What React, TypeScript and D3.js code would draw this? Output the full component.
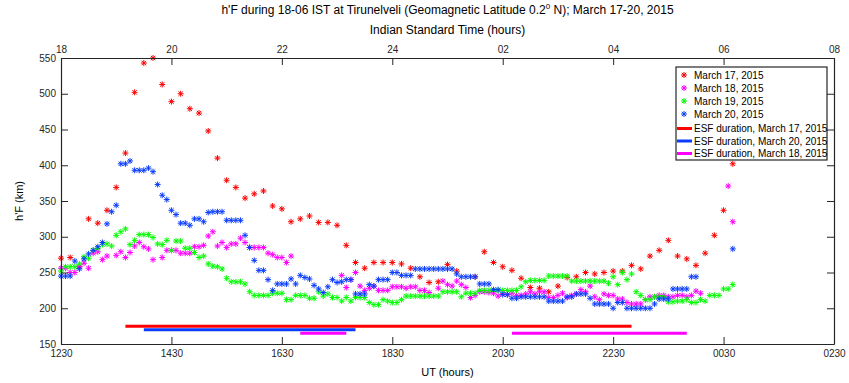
import { useEffect, useRef } from "react";
import * as d3 from "d3";

// h'F over Tirunelveli, 18-06 IST, March 17-20 2015.
// Values are [UT hhmm, h'F km]; times before 1200 belong to the next UT day.

const MAR17: [number, number][] = [
  [1230, 270], [1240, 271], [1250, 258], [1300, 325], [1310, 319], [1320, 337], [1330, 369], [1340, 417],
  [1350, 502], [1400, 543], [1410, 550], [1420, 513], [1430, 489], [1440, 500], [1450, 479], [1500, 473],
  [1510, 448], [1520, 410], [1530, 379], [1540, 369], [1550, 354], [1600, 360], [1610, 364], [1620, 343],
  [1630, 339], [1640, 321], [1650, 325], [1700, 329], [1710, 320], [1720, 320], [1730, 316], [1740, 288],
  [1750, 264], [1800, 256], [1810, 264], [1820, 264], [1830, 264], [1840, 262], [1850, 256], [1900, 244],
  [1910, 236], [1920, 237], [1930, 261], [1940, 252], [2000, 244], [2010, 279], [2020, 264], [2030, 258],
  [2040, 253], [2050, 242], [2100, 229], [2110, 228], [2120, 223], [2130, 231], [2140, 243], [2150, 244],
  [2200, 250], [2210, 248], [2220, 250], [2230, 252], [2240, 252], [2250, 260], [2300, 255], [2310, 273],
  [2320, 281], [2330, 295], [2340, 273], [2350, 269], [0, 260], [10, 277], [20, 302], [30, 337], [40, 402],
];

const MAR18: [number, number][] = [
  [1230, 256], [1235, 256], [1240, 250], [1245, 250], [1250, 258], [1255, 263], [1300, 256], [1305, 277],
  [1310, 279], [1315, 268], [1320, 273], [1330, 274], [1335, 279], [1340, 271], [1345, 278], [1350, 287],
  [1355, 292], [1400, 286], [1405, 283], [1410, 268], [1420, 271], [1425, 281], [1430, 281], [1435, 281],
  [1440, 277], [1445, 277], [1450, 277], [1455, 286], [1500, 286], [1505, 288], [1510, 301], [1515, 307],
  [1520, 287], [1525, 292], [1530, 285], [1535, 290], [1540, 290], [1545, 298], [1550, 292], [1555, 285],
  [1600, 285], [1605, 285], [1610, 285], [1615, 277], [1620, 275], [1625, 271], [1630, 271], [1635, 264],
  [1640, 273],
  [1735, 246], [1740, 229], [1745, 240], [1750, 250], [1755, 231], [1800, 225], [1805, 228], [1810, 231],
  [1815, 225], [1820, 225], [1825, 225], [1830, 230], [1835, 230], [1840, 230], [1845, 228], [1850, 230],
  [1855, 230], [1900, 225], [1905, 225], [1910, 222], [1920, 228], [1925, 238], [1930, 233], [1935, 231],
  [1940, 238], [1945, 233], [1950, 229], [1955, 215], [2000, 218], [2005, 223], [2010, 223], [2015, 222],
  [2020, 221], [2025, 217], [2030, 221], [2035, 219], [2040, 221], [2045, 218], [2050, 218], [2055, 220],
  [2100, 223], [2105, 220], [2110, 223], [2115, 223], [2120, 215], [2125, 215], [2130, 218], [2135, 221],
  [2140, 215], [2145, 218], [2150, 220], [2155, 226], [2200, 223], [2205, 231], [2210, 216], [2215, 212],
  [2220, 220], [2225, 218], [2230, 218], [2235, 213], [2240, 213], [2245, 208], [2250, 206], [2255, 206],
  [2300, 206], [2305, 212], [2310, 216], [2315, 216], [2320, 218], [2325, 218], [2330, 216], [2335, 216],
  [2340, 218], [2345, 218], [2350, 216], [2355, 218], [0, 224], [5, 221], [35, 371], [40, 321],
];

const MAR19: [number, number][] = [
  [1230, 252], [1235, 258], [1240, 258], [1245, 258], [1250, 262], [1255, 272], [1300, 270], [1305, 281],
  [1310, 284], [1315, 289], [1320, 290], [1325, 287], [1330, 302], [1335, 307], [1340, 311], [1345, 289],
  [1350, 295], [1355, 303], [1400, 303], [1405, 303], [1410, 299], [1415, 290], [1420, 289], [1425, 295],
  [1430, 281], [1435, 294], [1440, 294], [1445, 284], [1450, 284], [1455, 278], [1500, 271], [1505, 273],
  [1510, 262], [1515, 259], [1520, 258], [1525, 255], [1530, 242], [1535, 237], [1540, 237], [1545, 237],
  [1550, 234], [1555, 223], [1600, 218], [1605, 218], [1610, 218], [1615, 218], [1620, 221], [1625, 221],
  [1630, 221], [1635, 212], [1640, 212], [1645, 218], [1650, 218], [1655, 218], [1700, 214], [1705, 214],
  [1710, 223], [1715, 217], [1720, 220], [1725, 215], [1730, 215], [1735, 210], [1740, 215], [1745, 210],
  [1750, 215], [1755, 215], [1800, 215], [1805, 208], [1810, 205], [1815, 205], [1820, 212], [1825, 210],
  [1830, 208], [1835, 208], [1840, 212], [1845, 217], [1850, 217], [1855, 217], [1900, 217], [1905, 217],
  [1910, 217], [1915, 217], [1920, 217], [1925, 223], [1930, 223], [1935, 223], [1940, 223], [1945, 216],
  [1950, 221], [1955, 221], [2000, 221], [2005, 225], [2010, 225], [2015, 225], [2020, 225], [2025, 225],
  [2030, 225], [2035, 225], [2040, 225], [2045, 225], [2050, 230], [2055, 237], [2100, 239], [2105, 239],
  [2110, 239], [2115, 239], [2120, 245], [2125, 245], [2130, 245], [2135, 245], [2140, 245], [2145, 238],
  [2150, 238], [2155, 238], [2200, 238], [2205, 238], [2210, 238], [2215, 238], [2220, 238], [2225, 235],
  [2230, 244], [2235, 233], [2240, 250], [2245, 240], [2250, 248], [2255, 223], [2300, 218], [2305, 212],
  [2310, 212], [2315, 216], [2320, 216], [2325, 216], [2330, 209], [2335, 209], [2340, 210], [2345, 210],
  [2350, 212], [2355, 208], [0, 208], [5, 212], [10, 210], [15, 218], [20, 218], [25, 218], [30, 227],
  [35, 227], [40, 233],
];

const MAR20: [number, number][] = [
  [1230, 245], [1235, 245], [1240, 245], [1245, 266], [1250, 255], [1255, 269], [1300, 276], [1305, 281],
  [1310, 286], [1315, 292], [1320, 318], [1325, 335], [1330, 344], [1335, 402], [1340, 402], [1345, 406],
  [1350, 393], [1355, 393], [1400, 393], [1405, 396], [1410, 391], [1415, 373], [1420, 358], [1425, 352],
  [1430, 337], [1435, 331], [1440, 319], [1445, 319], [1450, 316], [1455, 325], [1500, 325], [1505, 321],
  [1510, 334], [1515, 335], [1520, 335], [1525, 335], [1530, 323], [1535, 323], [1540, 323], [1545, 323],
  [1550, 302], [1555, 285], [1600, 267], [1605, 253], [1610, 253], [1615, 240], [1620, 225], [1625, 234],
  [1630, 234], [1635, 234], [1640, 241], [1645, 234], [1650, 246], [1655, 243], [1700, 241], [1705, 232],
  [1710, 227], [1715, 222], [1720, 230], [1725, 240], [1730, 236], [1735, 237], [1740, 240], [1745, 240],
  [1750, 220], [1755, 220], [1800, 220], [1805, 233], [1810, 231], [1815, 240], [1820, 240], [1825, 240],
  [1830, 250], [1835, 250], [1840, 246], [1845, 246], [1850, 246], [1855, 255], [1900, 255], [1905, 255],
  [1910, 255], [1915, 255], [1920, 255], [1925, 255], [1930, 255], [1935, 255], [1940, 248], [1945, 244],
  [1950, 244], [1955, 244], [2000, 244], [2005, 234], [2010, 234], [2015, 234], [2020, 226], [2025, 226],
  [2030, 219], [2035, 219], [2040, 214], [2045, 214], [2050, 216], [2055, 216], [2100, 216], [2105, 216],
  [2110, 216], [2115, 216], [2120, 210], [2125, 210], [2130, 210], [2135, 210], [2140, 216], [2145, 216],
  [2150, 220], [2155, 220], [2200, 220], [2205, 214], [2210, 206], [2215, 206], [2220, 206], [2225, 206],
  [2230, 200], [2235, 208], [2240, 208], [2245, 200], [2250, 200], [2255, 200], [2300, 200], [2305, 200],
  [2310, 200], [2315, 206], [2320, 213], [2325, 213], [2330, 213], [2335, 227], [2340, 227], [2345, 227],
  [2350, 227], [2355, 244], [0, 244], [40, 283],
];

const SERIES = [
  { label: "March 17, 2015", color: "#ff0000", data: MAR17 },
  { label: "March 18, 2015", color: "#ff00ff", data: MAR18 },
  { label: "March 19, 2015", color: "#00ff00", data: MAR19 },
  { label: "March 20, 2015", color: "#0a3cff", data: MAR20 },
];

// ESF (spread-F) durations, drawn as horizontal bars at a fixed h'F level
const ESF: { label: string | null; color: string; from: number; to: number; level: number }[] = [
  { label: "ESF duration, March 17, 2015", color: "#ff0000", from: 1340, to: 2250, level: 175 },
  { label: "ESF duration, March 20, 2015", color: "#0a3cff", from: 1400, to: 1750, level: 170 },
  { label: "ESF duration, March 18, 2015", color: "#ff00ff", from: 1650, to: 1740, level: 165 },
  { label: null, color: "#ff00ff", from: 2040, to: 2350, level: 165 },
];

const UT_TICKS = [1230, 1430, 1630, 1830, 2030, 2230, 30, 230];
const IST_LABELS = ["18", "20", "22", "24", "02", "04", "06", "08"];
const Y_TICKS = [150, 200, 250, 300, 350, 400, 450, 500, 550];

const W = 849;
const H = 383;
const M = { left: 61, right: 834, top: 58, bottom: 344 };
const FONT = "'Liberation Sans', Arial, Helvetica, sans-serif";
const AXIS = "#262626";

// hhmm -> hours since 00 UT of the first day
function ut(hhmm: number) {
  const h = Math.floor(hhmm / 100) + (hhmm % 100) / 60;
  return h < 12 ? h + 24 : h;
}

const STAR = "M-3,0L3,0M0,-3L0,3M-2.2,-2.2L2.2,2.2M-2.2,2.2L2.2,-2.2";

export default function App() {
  const svgRef = useRef<SVGSVGElement>(null);

  useEffect(() => {
    const svg = d3.select(svgRef.current!);
    svg.selectAll("*").remove();

    const x = d3.scaleLinear().domain([ut(1230), ut(230)]).range([M.left, M.right]);
    const y = d3.scaleLinear().domain([150, 550]).range([M.bottom, M.top]);

    svg.append("rect").attr("width", W).attr("height", H).attr("fill", "#fff");

    // ESF bars
    svg
      .append("g")
      .selectAll("line")
      .data(ESF)
      .join("line")
      .attr("x1", (d) => x(ut(d.from)))
      .attr("x2", (d) => x(ut(d.to)))
      .attr("y1", (d) => y(d.level))
      .attr("y2", (d) => y(d.level))
      .attr("stroke", (d) => d.color)
      .attr("stroke-width", 3);

    // scatter series
    SERIES.forEach((s) => {
      svg
        .append("g")
        .selectAll("path")
        .data(s.data)
        .join("path")
        .attr("d", STAR)
        .attr("transform", (d) => `translate(${x(ut(d[0]))},${y(d[1])})`)
        .attr("fill", "none")
        .attr("stroke", s.color)
        .attr("stroke-width", 1);
    });

    const styleAxis = (g: d3.Selection<SVGGElement, unknown, null, undefined>) => {
      g.select(".domain").attr("stroke", AXIS).attr("stroke-width", 1.2);
      g.selectAll(".tick line").attr("stroke", AXIS).attr("stroke-width", 1);
      g.selectAll("text").attr("fill", "#262626").style("font-family", FONT).style("font-size", "10px");
    };

    svg
      .append("g")
      .attr("transform", `translate(0,${M.bottom})`)
      .call(
        d3
          .axisBottom(x)
          .tickValues(UT_TICKS.map(ut))
          .tickSizeInner(-7)
          .tickSizeOuter(0)
          .tickPadding(6)
          .tickFormat((_, i) => String(UT_TICKS[i]).padStart(4, "0"))
      )
      .call(styleAxis);

    svg
      .append("g")
      .attr("transform", `translate(0,${M.top})`)
      .call(
        d3
          .axisTop(x)
          .tickValues(UT_TICKS.map(ut))
          .tickSizeInner(-7)
          .tickSizeOuter(0)
          .tickPadding(5)
          .tickFormat((_, i) => IST_LABELS[i])
      )
      .call(styleAxis);

    svg
      .append("g")
      .attr("transform", `translate(${M.left},0)`)
      .call(d3.axisLeft(y).tickValues(Y_TICKS).tickSizeInner(-7).tickSizeOuter(0).tickPadding(5))
      .call(styleAxis);

    svg
      .append("g")
      .attr("transform", `translate(${M.right},0)`)
      .call(d3.axisRight(y).tickValues(Y_TICKS).tickSizeInner(-7).tickSizeOuter(0).tickFormat(() => ""))
      .call(styleAxis);

    // titles
    const title = svg
      .append("text")
      .attr("x", (M.left + M.right) / 2)
      .attr("y", 14)
      .attr("text-anchor", "middle")
      .style("font-family", FONT)
      .style("font-size", "12px")
      .attr("fill", "#000");
    title.append("tspan").text("h'F during 18-06 IST at Tirunelveli (Geomagnetic Latitude 0.2");
    title.append("tspan").attr("dy", -5).style("font-size", "8px").text("0");
    title.append("tspan").attr("dy", 5).text(" N); March 17-20, 2015");

    svg
      .append("text")
      .attr("x", (M.left + M.right) / 2)
      .attr("y", 34)
      .attr("text-anchor", "middle")
      .style("font-family", FONT)
      .style("font-size", "12px")
      .text("Indian Standard Time (hours)");

    svg
      .append("text")
      .attr("x", (M.left + M.right) / 2)
      .attr("y", 376)
      .attr("text-anchor", "middle")
      .style("font-family", FONT)
      .style("font-size", "11px")
      .text("UT (hours)");

    svg
      .append("text")
      .attr("transform", `translate(23,${(M.top + M.bottom) / 2}) rotate(-90)`)
      .attr("text-anchor", "middle")
      .style("font-family", FONT)
      .style("font-size", "11px")
      .text("h'F (km)");

    // legend
    const lg = svg.append("g").attr("transform", "translate(676,67)");
    lg.append("rect")
      .attr("width", 151)
      .attr("height", 93)
      .attr("fill", "#fff")
      .attr("stroke", AXIS)
      .attr("stroke-width", 1.2);
    SERIES.forEach((s, i) => {
      const yy = 8 + i * 13;
      lg.append("path")
        .attr("d", STAR)
        .attr("transform", `translate(8,${yy})`)
        .attr("fill", "none")
        .attr("stroke", s.color);
      lg.append("text")
        .attr("x", 18)
        .attr("y", yy + 3.5)
        .style("font-family", FONT)
        .style("font-size", "10px")
        .text(s.label);
    });
    ESF.filter((e) => e.label).forEach((e, i) => {
      const yy = 61.5 + i * 12.5;
      lg.append("line")
        .attr("x1", 1)
        .attr("x2", 16)
        .attr("y1", yy)
        .attr("y2", yy)
        .attr("stroke", e.color)
        .attr("stroke-width", 3);
      lg.append("text")
        .attr("x", 18)
        .attr("y", yy + 3.5)
        .style("font-family", FONT)
        .style("font-size", "10px")
        .text(e.label!);
    });
  }, []);

  return (
    <svg
      ref={svgRef}
      width={W}
      height={H}
      style={{ position: "absolute", left: 0, top: 0 }}
    />
  );
}
